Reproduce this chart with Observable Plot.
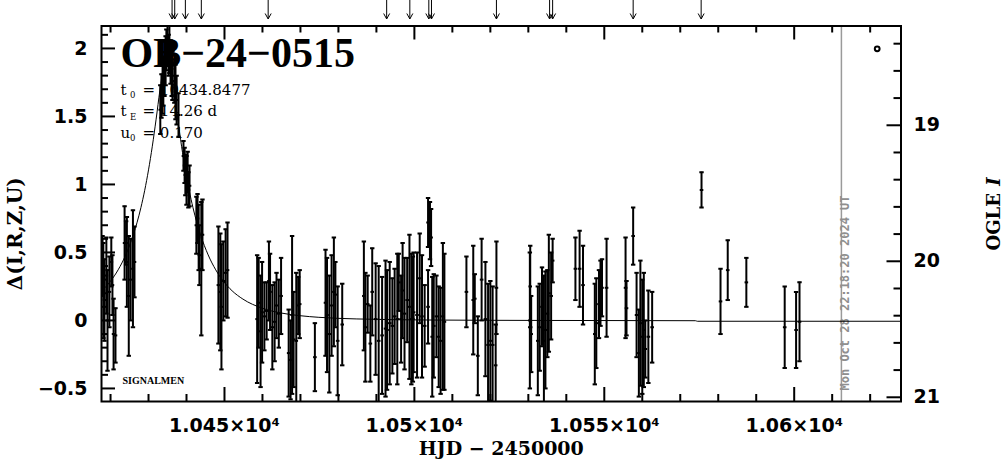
<!DOCTYPE html>
<html><head><meta charset="utf-8">
<script src="https://cdn.jsdelivr.net/npm/d3@7"></script>
<script src="https://cdn.jsdelivr.net/npm/@observablehq/plot@0.6"></script>
<style>
html,body{margin:0;padding:0;background:#fff;}
svg{display:block;}
</style></head><body><div id="chart"></div>
<script>
// Observations: HJD-2450000, Δ magnitude, error
const hjd = [
10417.9,10418.1,10418.4,10418.9,10419.2,10419.7,10420.2,10420.5,10420.8,10421.3,
10423.7,10424.1,10424.3,10424.8,10425.3,10425.9,10426.3,
10433.1,10433.4,10433.7,10433.9,10434.2,10434.5,10434.7,10435.0,10435.3,10435.5,10435.8,10436.1,10436.3,10436.8,10437.1,10437.4,10437.9,
10439.2,10439.5,10439.7,10440.0,10440.3,10440.5,10440.8,
10442.6,10442.9,10443.2,10443.4,10443.9,10444.2,
10448.4,10448.9,10449.2,10449.7,10450.3,10450.8,
10458.6,10459.0,10459.5,10459.9,10460.5,10461.1,10461.7,10462.0,10462.6,10463.2,10463.7,10464.3,10464.9,
10466.9,10467.4,10467.8,10468.2,10468.9,10469.4,10469.8,
10473.8,
10476.6,10477.0,10477.6,10478.2,10478.8,10479.2,10479.8,10481.0,
10486.7,10487.1,10487.7,10488.4,10488.9,10489.8,10490.6,
10491.5,10492.4,10492.8,10493.5,10494.2,10494.8,10495.5,10495.9,10496.5,10496.9,10497.4,10498.1,10498.7,10499.2,10499.6,10499.8,10500.7,10501.4,10502.0,10502.7,10503.6,10503.6,10504.1,10504.4,10504.7,10505.1,10505.8,10506.4,10506.9,10507.5,10507.9,
10513.7,10515.5,10515.9,10516.7,10517.7,10518.7,10519.4,10520.0,10520.6,10521.4,10521.6,
10530.4,10530.5,10530.75,10532.5,10533.0,10533.6,10534.1,10534.5,10535.0,10535.4,10536.0,10536.4,
10542.4,10543.5,10544.4,
10547.5,10547.9,10548.6,10549.0,10549.4,10550.6,
10555.6,10555.85,10557.6,10558.5,10559.1,10559.5,10560.0,10560.4,10560.8,10561.6,10562.6,
10575.6,
10580.6,10582.5,10587.4,10597.5,10600.5,10601.4
];
const delta = [
0.40,0.22,0.15,0.33,0.00,0.21,0.43,0.26,-0.10,-0.11,
0.57,0.57,0.43,0.18,0.30,0.38,0.43,
1.55,1.65,1.72,1.76,1.85,1.91,1.99,2.04,1.95,2.00,1.90,1.85,1.80,1.76,1.68,1.62,1.51,
1.21,1.14,1.07,1.03,1.09,0.96,0.99,
0.70,0.75,0.61,0.48,0.38,0.63,
0.26,0.21,0.10,0.29,0.35,0.37,
0.01,0.13,-0.08,0.06,0.03,0.07,0.29,0.21,-0.05,-0.01,0.11,0.05,0.18,
-0.24,-0.29,0.04,-0.14,-0.15,0.11,0.12,
-0.27,
0.13,0.04,-0.10,0.11,0.21,0.19,-0.15,-0.03,
0.18,-0.05,0.12,-0.17,0.21,0.01,-0.15,
-0.11,-0.06,-0.07,-0.02,-0.04,0.03,0.01,0.28,0.01,0.22,0.05,0.15,0.10,0.01,0.01,0.06,0.04,0.31,0.03,-0.04,0.72,0.10,0.66,0.61,-0.12,-0.04,0.03,-0.12,-0.15,0.03,-0.01,
0.21,0.15,0.16,-0.26,0.30,0.01,-0.18,-0.15,-0.18,-0.33,0.24,
0.00,0.25,-0.10,-0.15,-0.05,0.10,-0.15,-0.07,0.05,0.20,0.18,0.44,
0.38,0.38,0.26,
-0.10,-0.02,0.12,0.20,0.24,0.24,
0.24,0.09,0.62,0.04,-0.24,-0.02,-0.12,-0.07,-0.21,-0.12,-0.05,
0.96,
0.14,0.37,0.28,-0.05,-0.07,-0.01
];
const err = [
0.22,0.35,0.30,0.28,0.37,0.26,0.18,0.22,0.26,0.20,
0.27,0.16,0.33,0.44,0.30,0.43,0.26,
0.18,0.16,0.20,0.18,0.20,0.18,0.15,0.16,0.15,0.18,0.16,0.20,0.18,0.16,0.20,0.18,0.16,
0.11,0.13,0.15,0.18,0.15,0.13,0.15,
0.21,0.18,0.24,0.22,0.49,0.26,
0.43,0.43,0.46,0.29,0.32,0.35,
0.47,0.33,0.41,0.37,0.25,0.21,0.29,0.28,0.31,0.29,0.24,0.25,0.28,
0.32,0.29,0.58,0.35,0.50,0.21,0.25,
0.25,
0.39,0.42,0.43,0.37,0.40,0.24,0.40,0.30,
0.40,0.40,0.21,0.28,0.32,0.41,0.55,
0.43,0.50,0.44,0.45,0.35,0.35,0.48,0.21,0.32,0.35,0.41,0.31,0.53,0.48,0.46,0.44,0.46,0.33,0.45,0.30,0.18,0.27,0.21,0.21,0.44,0.38,0.30,0.37,0.39,0.54,0.50,
0.26,0.40,0.18,0.29,0.30,0.42,0.45,0.44,0.43,0.30,0.34,
0.50,0.30,0.28,0.40,0.32,0.29,0.48,0.43,0.32,0.43,0.32,0.16,
0.23,0.28,0.29,
0.37,0.33,0.25,0.24,0.21,0.36,
0.37,0.20,0.21,0.31,0.32,0.46,0.42,0.42,0.21,0.34,0.26,
0.13,
0.24,0.22,0.18,0.30,0.28,0.29
];
// Model light curve (t0 = 10434.8477, tE = 14.26 d, u0 = 0.170)
const modelT = [10417.62,10420,10422,10424,10426,10428,10429,10430,10431,10432,10433,10434,10434.85,10435.7,10436.7,10437.7,10438.7,10439.7,10440.7,10441.7,10443.7,10445.7,10447.7,10449.7,10452,10454.85,10459.85,10464.85,10469.85,10474.85,10484.85,10504.85,10534.85,10574,10574.5,10628.12];
const modelDelta = [0.216,0.289,0.372,0.482,0.630,0.830,0.957,1.107,1.281,1.480,1.693,1.874,1.935,1.874,1.693,1.480,1.281,1.107,0.957,0.830,0.630,0.482,0.372,0.289,0.218,0.157,0.091,0.055,0.035,0.023,0.011,0.003,0.000,-0.002,-0.006,-0.006];
// Top arrows (HJD)
const arrowT = [10436.2,10436.9,10439.7,10443.9,10461.5,10492.7,10498.8,10503.8,10504.5,10521.6,10535.6,10536.4,10557.6,10575.5];
const nowT = 10612.43;
const stamp = "Mon Oct 28 22:18:20 2024 UT";
const title = "OB−24−0515";
const paramNames = ["t", "t", "u"];
const paramSubs = ["0", "E", "0"];
const paramValues = ["= 10434.8477", "= 14.26 d", "= 0.170"];
const xMajor = [10450, 10500, 10550, 10600];
const xTickLabels = ["1.045×10⁴", "1.05×10⁴", "1.055×10⁴", "1.06×10⁴"];
const xMinor = [10420,10430,10440,10460,10470,10480,10490,10510,10520,10530,10540,10560,10570,10580,10590,10610,10620];
const yMajor = [-0.5, 0, 0.5, 1, 1.5, 2];
const yTickLabels = ["−0.5", "0", "0.5", "1", "1.5", "2"];
const yMinor = [-0.4,-0.3,-0.2,-0.1,0.1,0.2,0.3,0.4,0.6,0.7,0.8,0.9,1.1,1.2,1.3,1.4,1.6,1.7,1.8,1.9,2.1];
const magBase = 20.435;
const magMajor = [19, 20, 21];
const magMinor = [18.4,18.6,18.8,19.2,19.4,19.6,19.8,20.2,20.4,20.6,20.8];

const obs = hjd.map((t, i) => ({t, d: delta[i], e: err[i]}));
const model = modelT.map((t, i) => ({t, d: modelDelta[i]}));

const capSym = {draw(ctx) { ctx.moveTo(-2.2, 0); ctx.lineTo(2.2, 0); }};
const midSym = {draw(ctx) { ctx.moveTo(-1.8, 0); ctx.lineTo(1.8, 0); }};
const headSym = {draw(ctx) { ctx.moveTo(-3, -5.5); ctx.lineTo(0, 0); ctx.lineTo(3, -5.5); }};
const ringSym = {draw(ctx) { ctx.moveTo(2.4, 0); ctx.arc(0, 0, 2.4, 0, 2 * Math.PI); }};

const W = 1004, H = 459, mL = 101, mR = 103.5, mT = 25.5, mB = 58;
const xDom = [10417.62, 10628.12], yDom = [-0.596, 2.165];
const kx = (W - mL - mR) / (xDom[1] - xDom[0]);   // px per day
const ky = (H - mT - mB) / (yDom[1] - yDom[0]);   // px per Δ unit
const axisFont = {fontFamily: "DejaVu Sans", fontSize: 19, fontWeight: "bold"};
const tk = {stroke: "black", strokeWidth: 2, strokeLinecap: "butt"};

const paramMarks = paramNames.flatMap((n, i) => {
  const base = 68.5 + i * 21.5;
  return [
    Plot.text([n], {text: d => d, frameAnchor: "top-left", dx: 19, dy: base, textAnchor: "start", lineAnchor: "bottom", fontSize: 15, fontFamily: "DejaVu Serif"}),
    Plot.text([paramSubs[i]], {text: d => d, frameAnchor: "top-left", dx: 28.5, dy: base + 3.5, textAnchor: "start", lineAnchor: "bottom", fontSize: 8.5, fontFamily: "DejaVu Serif"}),
    Plot.text([paramValues[i]], {text: d => d, frameAnchor: "top-left", dx: 41, dy: base, textAnchor: "start", lineAnchor: "bottom", fontSize: 15, fontFamily: "DejaVu Serif"})
  ];
});

const chart = Plot.plot({
  width: W, height: H,
  marginLeft: mL, marginRight: mR, marginTop: mT, marginBottom: mB,
  x: {domain: xDom, axis: null},
  y: {domain: yDom, axis: null},
  style: {background: "white", color: "black", overflow: "visible"},
  marks: [
    // title and parameters
    Plot.text([title], {text: d => d, frameAnchor: "top-left", dx: 19, dy: 41.2, textAnchor: "start", lineAnchor: "bottom", fontSize: 42, fontFamily: "Liberation Serif", fontWeight: "bold"}),
    ...paramMarks,
    Plot.text(["SIGNALMEN"], {text: d => d, frameAnchor: "bottom-left", dx: 21, dy: -18, textAnchor: "start", lineAnchor: "bottom", fontSize: 10, fontFamily: "Liberation Serif", fontWeight: "bold"}),
    // now line & stamp
    Plot.ruleX([nowT], {x: d => d, stroke: "#9a9a9a", strokeWidth: 1.5}),
    Plot.text([nowT], {x: d => d, text: () => stamp, frameAnchor: "bottom", rotate: -90, textAnchor: "start", dx: 7.5, dy: -11, fill: "#8f8f8f", fontSize: 12, fontWeight: "bold", fontFamily: "DejaVu Sans Mono"}),
    // model
    Plot.line(model, {x: "t", y: "d", curve: "monotone-x", stroke: "black", strokeWidth: 1, clip: true}),
    // data error bars
    Plot.ruleX(obs, {x: "t", y1: d => d.d - d.e, y2: d => d.d + d.e, stroke: "black", strokeWidth: 2, clip: true}),
    Plot.dot(obs, {x: "t", y: d => d.d - d.e, symbol: capSym, fill: "none", stroke: "black", strokeWidth: 2, clip: true}),
    Plot.dot(obs, {x: "t", y: d => d.d + d.e, symbol: capSym, fill: "none", stroke: "black", strokeWidth: 2, clip: true}),
    Plot.dot(obs, {x: "t", y: "d", symbol: midSym, fill: "none", stroke: "black", strokeWidth: 2, clip: true}),
    // legend ring
    Plot.dot([0], {frameAnchor: "top-right", dx: -23.8, dy: 22.8, symbol: ringSym, fill: "none", stroke: "black", strokeWidth: 2}),
    // arrows above the frame
    Plot.ruleX(arrowT, {x: d => d, insetTop: -mT, insetBottom: (H - mB) - 18.5, stroke: "black", strokeWidth: 1}),
    Plot.dot(arrowT, {x: d => d, frameAnchor: "top", dy: -7, symbol: headSym, fill: "none", stroke: "black", strokeWidth: 1}),
    // frame
    Plot.frame({stroke: "black", strokeWidth: 2}),
    // inward ticks (7 px minor, 14 px major)
    Plot.ruleX(xMinor, {x: d => d, y1: () => yDom[0], y2: () => yDom[0] + 7 / ky, ...tk}),
    Plot.ruleX(xMajor, {x: d => d, y1: () => yDom[0], y2: () => yDom[0] + 14 / ky, ...tk}),
    Plot.ruleX(xMinor, {x: d => d, y1: () => yDom[1] - 7 / ky, y2: () => yDom[1], ...tk}),
    Plot.ruleX(xMajor, {x: d => d, y1: () => yDom[1] - 14 / ky, y2: () => yDom[1], ...tk}),
    Plot.ruleY(yMinor, {y: d => d, x1: () => xDom[0], x2: () => xDom[0] + 7 / kx, ...tk}),
    Plot.ruleY(yMajor, {y: d => d, x1: () => xDom[0], x2: () => xDom[0] + 14 / kx, ...tk}),
    Plot.ruleY(magMinor, {y: m => magBase - m, x1: () => xDom[1] - 7 / kx, x2: () => xDom[1], ...tk}),
    Plot.ruleY(magMajor, {y: m => magBase - m, x1: () => xDom[1] - 14 / kx, x2: () => xDom[1], ...tk}),
    // tick labels
    Plot.axisX({ticks: xMajor, anchor: "bottom", tickSize: 0, tickPadding: 16.5, tickFormat: d => xTickLabels[xMajor.indexOf(d)], label: null, ...axisFont}),
    Plot.axisY({ticks: yMajor, anchor: "left", tickSize: 0, tickPadding: 14, tickFormat: d => yTickLabels[yMajor.indexOf(d)], label: null, ...axisFont}),
    Plot.axisY({ticks: magMajor.map(m => magBase - m), anchor: "right", tickSize: 0, tickPadding: 12.5, tickFormat: d => String(Math.round(magBase - d)), label: null, ...axisFont}),
    // axis titles
    Plot.text(["HJD − 2450000"], {text: d => d, frameAnchor: "bottom", textAnchor: "middle", dy: 53, lineAnchor: "bottom", fontSize: 19, fontWeight: "bold", fontFamily: "DejaVu Serif"}),
    Plot.text(["Δ(I,R,Z,U)"], {text: d => d, frameAnchor: "left", textAnchor: "middle", dx: -86, dy: 20, rotate: -90, fontSize: 20, fontWeight: "bold", fontFamily: "DejaVu Serif"}),
    Plot.text(["OGLE"], {text: d => d, frameAnchor: "right", dx: 93.5, dy: 36.75, rotate: -90, textAnchor: "start", fontSize: 18, fontWeight: "bold", fontFamily: "DejaVu Serif"}),
    Plot.text(["I"], {text: d => d, frameAnchor: "right", dx: 93.5, dy: -28, rotate: -90, textAnchor: "start", fontSize: 18, fontWeight: "bold", fontStyle: "italic", fontFamily: "DejaVu Serif"})
  ]
});
document.getElementById("chart").appendChild(chart);
</script>
</body></html>
